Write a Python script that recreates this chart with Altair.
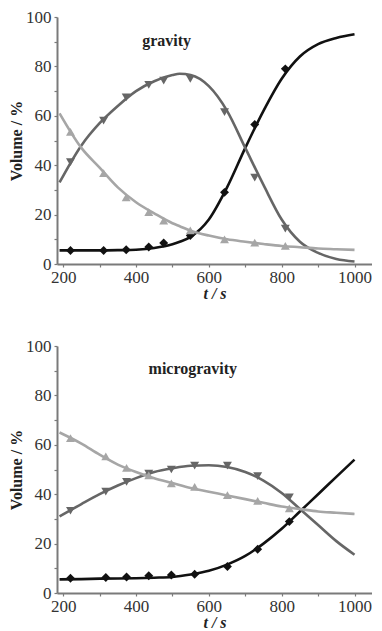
import altair as alt
import pandas as pd

SERIES = ["product", "intermediate", "reactant"]
COLORS = ["#111111", "#666666", "#a6a6a6"]
SHAPES = ["diamond", "triangle-down", "triangle-up"]

# ---------- gravity: measured points ----------
g_t_pts = [220, 311, 373, 435, 476, 549, 643, 726, 810]
g_prod_pts = [5.5, 5.5, 5.8, 6.9, 8.5, 11.5, 29, 56.5, 79]
g_inter_pts = [41.2, 58, 67.5, 72.5, 74.2, 74.9, 61.5, 35, 14.3]
g_react_pts = [53.5, 36.8, 27, 21, 17.6, 13.6, 10, 8.7, 7.3]

# ---------- gravity: fitted curves ----------
g_t_curve = [190, 250, 300, 350, 400, 450, 500, 520, 550, 600, 650, 700, 750, 800, 850, 900, 950, 1000]
g_prod_curve = [5.5, 5.5, 5.5, 5.6, 5.8, 6.5, 8, 9, 11, 18, 31, 47, 62, 75, 84, 89, 91.5, 93]
g_inter_curve = [33, 48, 57, 64, 70, 74, 76.5, 77, 76.5, 72, 62, 47, 32, 18, 9, 4.5, 2, 1]
g_react_curve = [61, 47, 39, 31, 25, 20.5, 16.5, 15.3, 13.5, 11.5, 10, 9, 8.1, 7.3, 6.8, 6.3, 6, 5.7]

# ---------- microgravity: measured points ----------
m_t_pts = [220, 317, 374, 435, 497, 561, 651, 734, 821]
m_prod_pts = [6, 6.3, 6.5, 7, 7.3, 7.6, 10.7, 17.7, 28.9]
m_inter_pts = [33.3, 41, 45, 48.3, 50, 51.6, 51.6, 47.3, 38.7]
m_react_pts = [62.7, 55.3, 50.7, 47.6, 44.4, 43, 39.6, 37.3, 34.3]

# ---------- microgravity: fitted curves ----------
m_t_curve = [190, 250, 300, 350, 400, 450, 500, 550, 600, 650, 700, 750, 800, 850, 900, 950, 1000]
m_prod_curve = [5.5, 5.6, 5.8, 5.9, 6, 6.2, 6.5, 7.5, 9, 11.5, 15, 20, 26, 33, 40, 47, 54]
m_inter_curve = [31, 36, 40, 43.5, 46.5, 49, 50.5, 51.5, 51.7, 51, 49, 45.5, 40.5, 34, 27.5, 21, 15.5]
m_react_curve = [65, 60.5, 56, 52, 49, 46.5, 44.5, 42.5, 41, 39.5, 38, 36.5, 35, 34, 33, 32.5, 32]

X_TICKS = [200, 300, 400, 500, 600, 700, 800, 900, 1000]
Y_TICKS = [0, 10, 20, 30, 40, 50, 60, 70, 80, 90, 100]
FONT = "Liberation Serif"


def long_df(t, series_lists):
    rows = []
    for name, vals in zip(SERIES, series_lists):
        for ti, v in zip(t, vals):
            rows.append({"t": ti, "v": v, "s": name})
    return pd.DataFrame(rows)


def panel(label, t_pts, pts, t_curve, curves, label_t, label_v):
    pdf = long_df(t_pts, pts)
    cdf = long_df(t_curve, curves)
    x = alt.X("t:Q", scale=alt.Scale(domain=[183, 1048], nice=False, zero=False),
              axis=alt.Axis(values=X_TICKS, title="t / s", format="d",
                            labelExpr="datum.value % 200 == 0 ? datum.label : ''",
                            titleFontStyle="italic", titlePadding=0, labelPadding=2))
    y = alt.Y("v:Q", scale=alt.Scale(domain=[0, 100], nice=False),
              axis=alt.Axis(values=Y_TICKS, title="Volume / %",
                            labelExpr="datum.value % 20 == 0 ? datum.label : ''",
                            titlePadding=1, labelPadding=3))
    color = alt.Color("s:N", scale=alt.Scale(domain=SERIES, range=COLORS), legend=None)
    shape = alt.Shape("s:N", scale=alt.Scale(domain=SERIES, range=SHAPES), legend=None)
    lines = alt.Chart(cdf).mark_line(strokeWidth=2.6, interpolate="monotone").encode(
        x=x, y=y, color=color, detail="s:N")
    points = alt.Chart(pdf).mark_point(filled=True, size=80, opacity=1).encode(
        x=x, y=y, color=color, shape=shape)
    txt = alt.Chart(pd.DataFrame({"t": [label_t], "v": [label_v], "lab": [label]})).mark_text(
        font=FONT, fontSize=16, fontWeight="bold", color="#222").encode(
        x=x, y=y, text="lab:N")
    return alt.layer(lines, points, txt).properties(width=315, height=247)


top = panel("gravity", g_t_pts, [g_prod_pts, g_inter_pts, g_react_pts],
            g_t_curve, [g_prod_curve, g_inter_curve, g_react_curve], 484, 90.4)
bottom = panel("microgravity", m_t_pts, [m_prod_pts, m_inter_pts, m_react_pts],
               m_t_curve, [m_prod_curve, m_inter_curve, m_react_curve], 556, 90.8)

chart = alt.vconcat(top, bottom, spacing=36).properties(
    padding={"left": 0, "top": 0, "right": 0, "bottom": 0}
).configure_view(stroke=None).configure_axis(
    grid=False,
    domainColor="#7a7a7a",
    domainWidth=2,
    tickColor="#7a7a7a",
    tickSize=3,
    tickWidth=1.2,
    labelFont=FONT,
    labelFontSize=17,
    labelColor="#333333",
    titleFont=FONT,
    titleFontSize=16,
    titleFontWeight="bold",
    titleColor="#222222",
)

chart.save("out.html", embed_options={"renderer": "svg", "actions": False})
